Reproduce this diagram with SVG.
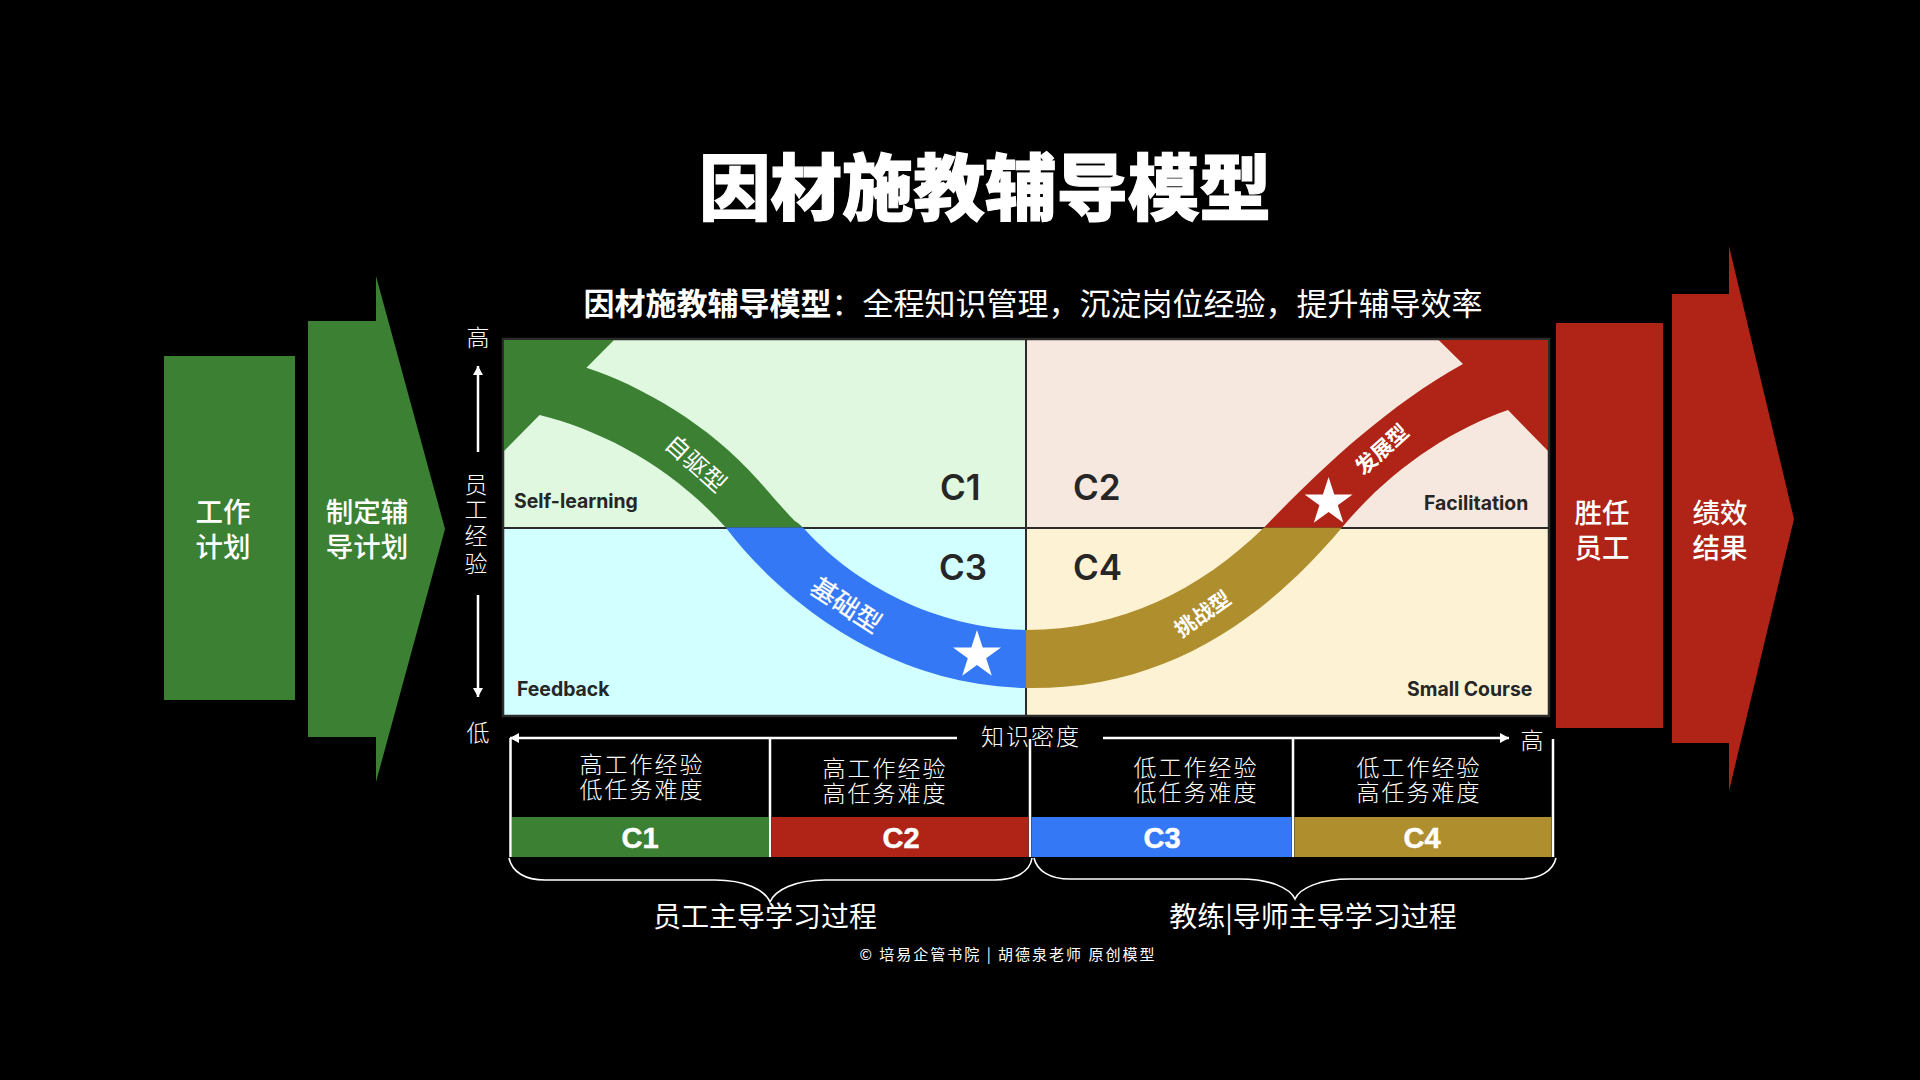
<svg xmlns="http://www.w3.org/2000/svg" width="1920" height="1080" viewBox="0 0 1920 1080">
<style>
text{font-family:"Noto Sans CJK SC","Noto Sans",sans-serif;fill:#fff;text-anchor:middle}
.thin{font-weight:300;font-size:23px;letter-spacing:2px}
.box{font-size:27.5px;font-weight:500}
.tag{font-family:"Liberation Sans","Noto Sans CJK SC",sans-serif;font-weight:700;font-size:29px;stroke:#fff;stroke-width:.5}
.en{font-family:Inter,"Liberation Sans",sans-serif;font-weight:700;font-size:19.4px;fill:#262626;text-anchor:start}
.cn{font-family:Inter,"Liberation Sans",sans-serif;font-weight:600;font-size:35px;fill:#262626;text-anchor:start}
.grp{font-size:28px;font-weight:400}
.ln{stroke:#fff;stroke-width:2.5;fill:none}
.br{stroke:#fff;stroke-width:1.6;fill:none}
.g{fill:#3c8034}.r{fill:#af2416}.b{fill:#3578f6}.y{fill:#af8e2e}
</style>
<defs>
<marker id="ah" markerUnits="userSpaceOnUse" markerWidth="10" markerHeight="10" refX="9" refY="5" orient="auto"><path d="M0 0L9 5L0 10Z" fill="#fff"/></marker>
</defs>
<rect width="1920" height="1080" fill="#000"/>
<g id="title">
<text x="985" y="214" font-size="71.5" font-weight="900" stroke="#fff" stroke-width="1.2">因材施教辅导模型</text>
<text x="1033" y="315" font-size="31"><tspan font-weight="700">因材施教辅导模型</tspan>：全程知识管理，沉淀岗位经验，提升辅导效率</text>
</g>
<g id="node-work-plan"><rect class="g" x="164" y="356" width="131" height="344"/><text class="box" x="223" y="522">工作</text><text class="box" x="223" y="557">计划</text></g>
<g id="node-coach-plan"><path class="g" d="M308 321H376V276L445 529L376 782V737H308Z"/><text class="box" x="367" y="522">制定辅</text><text class="box" x="367" y="557">导计划</text></g>
<g id="node-competent"><rect class="r" x="1556" y="323" width="107" height="405"/><text class="box" x="1602" y="523">胜任</text><text class="box" x="1602" y="558">员工</text></g>
<g id="node-result"><path class="r" d="M1672 294H1729V246L1794 519L1729 791V743H1672Z"/><text class="box" x="1720" y="523">绩效</text><text class="box" x="1720" y="558">结果</text></g>
<g id="node-matrix">
<rect x="503" y="339" width="523" height="188" fill="#dff8df"/>
<rect x="1026" y="339" width="523" height="188" fill="#f6e8df"/>
<rect x="503" y="527" width="523" height="189" fill="#d2ffff"/>
<rect x="1026" y="527" width="523" height="189" fill="#fdf3d4"/>
<path d="M503 528H1549M1026 339V716" stroke="#2b2b2b" stroke-width="2" fill="none"/>
<rect x="503" y="339" width="1046" height="377" fill="none" stroke="#2b2b2b" stroke-width="2.5"/>
</g>
<g id="node-bands">
<path class="g" d="M504 340H614L586.4 367.7C640 385 710 425 758 480S790 515 803 527.5H725.7C670 465 600 430 539.6 415L504 451Z"/>
<path class="b" d="M725.7 527.5H803C850 580 930 628 1026 630V688C890 685 785 605 725.7 527.5Z"/>
<path class="y" d="M1026 630C1120 630 1200 590 1264 527.5H1342C1260 625 1160 690 1026 688Z"/>
<path class="r" d="M1264 527.5C1310 480 1380 410 1463 364L1438.6 340H1548V451L1508 410C1450 430 1390 470 1342 527.5Z"/>
<path fill="#fff" d="M977 630L982.7 647.5L1001 647.5L986.2 658.3L991.8 675.8L977 665L962.2 675.8L967.8 658.3L953 647.5L971.3 647.5Z"/>
<path fill="#fff" d="M1328.6 477L1334.3 494.5L1352.6 494.5L1337.8 505.3L1343.4 522.8L1328.6 512L1313.8 522.8L1319.4 505.3L1304.6 494.5L1322.9 494.5Z"/>
<text font-size="24" transform="translate(690 470) rotate(42)">自驱型</text>
<text font-size="26" transform="translate(841 613) rotate(33)" stroke="#fff" stroke-width=".3">基础型</text>
<text font-size="21" font-weight="700" transform="translate(1207 620) rotate(-35)">挑战型</text>
<text font-size="21" font-weight="700" transform="translate(1387 455) rotate(-42)">发展型</text>
</g>
<g id="node-matrix-labels">
<text class="en" x="514" y="508">Self-learning</text>
<text class="en" x="517" y="696">Feedback</text>
<text class="en" x="1424" y="510">Facilitation</text>
<text class="en" x="1407" y="696">Small Course</text>
<text class="cn" x="940" y="500">C1</text>
<text class="cn" x="939" y="580">C3</text>
<text class="cn" x="1073" y="500">C2</text>
<text class="cn" x="1073" y="580">C4</text>
</g>
<g id="connectors">
<path class="ln" d="M478 452V366" marker-end="url(#ah)"/>
<path class="ln" d="M478 595V697" marker-end="url(#ah)"/>
<path class="ln" d="M957 738H510" marker-end="url(#ah)"/>
<path class="ln" d="M1103 738H1509" marker-end="url(#ah)"/>
<path class="ln" d="M510.5 738V857M770 738V857M1030 739V857M1293 739V857M1553 739V857"/>
<path class="br" d="M509 858C512 872 525 880 545 880H715C745 880 765 890 770 902C775 890 795 880 825 880H995C1015 880 1030 872 1032 858"/>
<path class="br" d="M1034 858C1037 871 1050 879 1070 879H1240C1270 879 1290 888 1295 899C1300 888 1320 879 1350 879H1520C1540 879 1553 871 1556 858"/>
</g>
<g id="node-axis">
<text class="thin" x="479" y="346">高</text>
<text class="thin" x="477" y="493">员</text>
<text class="thin" x="477" y="518">工</text>
<text class="thin" x="477" y="544">经</text>
<text class="thin" x="477" y="572">验</text>
<text class="thin" x="479" y="741">低</text>
<text class="thin" x="1031" y="745" letter-spacing="2">知识密度</text>
<text class="thin" x="1533" y="749">高</text>
</g>
<g id="node-c1"><rect class="g" x="512" y="817" width="257" height="40"/><text class="thin" x="642" y="773">高工作经验</text><text class="thin" x="642" y="798">低任务难度</text><text class="tag" x="640" y="848">C1</text></g>
<g id="node-c2"><rect class="r" x="771.5" y="817" width="257" height="40"/><text class="thin" x="885" y="777">高工作经验</text><text class="thin" x="885" y="802">高任务难度</text><text class="tag" x="901" y="848">C2</text></g>
<g id="node-c3"><rect class="b" x="1031.5" y="817" width="260" height="40"/><text class="thin" x="1196" y="776">低工作经验</text><text class="thin" x="1196" y="801">低任务难度</text><text class="tag" x="1162" y="848">C3</text></g>
<g id="node-c4"><rect class="y" x="1294.5" y="817" width="257" height="40"/><text class="thin" x="1419" y="776">低工作经验</text><text class="thin" x="1419" y="801">高任务难度</text><text class="tag" x="1422" y="848">C4</text></g>
<g id="node-groups">
<text class="grp" x="765" y="927">员工主导学习过程</text>
<text class="grp" x="1313" y="927">教练|导师主导学习过程</text>
</g>
<g id="footer"><text x="1008" y="960" font-size="15" letter-spacing="2">© 培易企管书院 | 胡德泉老师 原创模型</text></g>
</svg>
